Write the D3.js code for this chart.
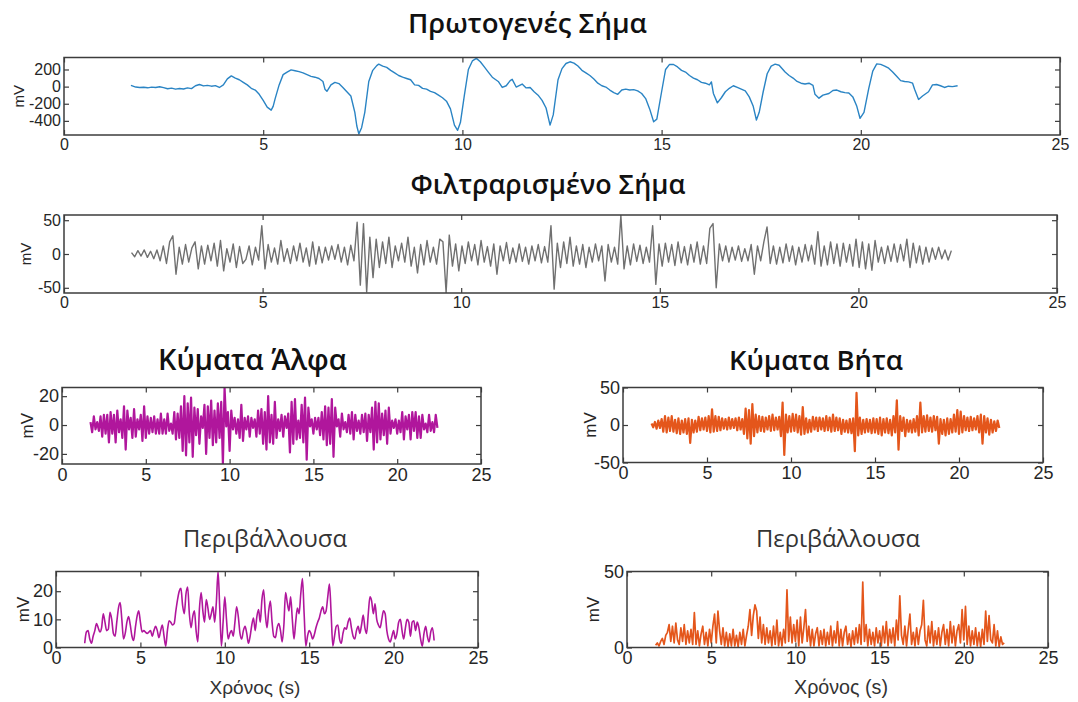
<!DOCTYPE html>
<html>
<head>
<meta charset="utf-8">
<script src="https://cdn.jsdelivr.net/npm/d3@7"></script>
<style>
  body { margin: 0; background: #fff; }
  svg { display: block; }
</style>
</head>
<body>
<svg id="chart" width="1078" height="702"></svg>
<script>
// ---- data ----
const xTicks = [0, 5, 10, 15, 20, 25];

// raw signal: time (s) / value (mV)
const rawT = [1.68,1.8,1.9,2.0,2.1,2.2,2.3,2.4,2.5,2.6,2.7,2.8,2.9,3.0,3.1,3.2,3.3,3.4,3.5,3.6,3.7,3.8,3.9,4.0,4.1,4.2,4.3,4.4,4.5,4.6,4.7,4.8,4.9,5.0,5.1,5.2,5.25,5.3,5.4,5.5,5.6,5.7,5.8,5.9,6.0,6.1,6.2,6.3,6.4,6.5,6.55,6.6,6.7,6.8,6.9,7.0,7.1,7.2,7.3,7.35,7.4,7.47,7.55,7.65,7.75,7.85,7.9,8.0,8.1,8.2,8.3,8.4,8.5,8.6,8.7,8.8,8.9,9.0,9.1,9.2,9.3,9.4,9.5,9.6,9.7,9.8,9.88,9.95,10.05,10.15,10.25,10.35,10.45,10.55,10.65,10.75,10.9,11.0,11.1,11.2,11.25,11.35,11.5,11.6,11.7,11.8,11.9,12.0,12.1,12.2,12.28,12.4,12.5,12.6,12.7,12.8,12.9,13.0,13.1,13.2,13.3,13.4,13.5,13.6,13.7,13.8,13.9,14.0,14.1,14.2,14.3,14.4,14.5,14.6,14.7,14.8,14.88,15.0,15.1,15.2,15.3,15.4,15.5,15.6,15.7,15.8,15.9,16.0,16.1,16.2,16.25,16.3,16.4,16.5,16.6,16.7,16.8,16.9,17.0,17.1,17.2,17.3,17.38,17.45,17.55,17.65,17.75,17.85,17.95,18.1,18.2,18.3,18.4,18.5,18.6,18.7,18.8,18.85,18.95,19.05,19.2,19.3,19.4,19.5,19.6,19.7,19.8,19.9,19.98,20.08,20.2,20.3,20.4,20.5,20.6,20.7,20.8,20.9,21.0,21.1,21.2,21.3,21.35,21.45,21.55,21.7,21.8,21.9,22.0,22.1,22.2,22.3,22.43];
const rawV = [15,-5,-10,-8,-14,-6,-10,-2,-12,-25,-18,-30,-22,-28,-15,-24,10,25,8,15,5,12,-10,20,90,125,100,80,50,20,-20,-40,-90,-160,-240,-275,-230,-140,20,140,170,195,185,175,160,140,120,110,95,60,-30,-55,20,50,35,-10,-60,-110,-300,-460,-552,-480,-300,60,190,245,262,240,225,190,160,130,110,95,80,20,15,-20,-30,-55,-70,-100,-130,-170,-260,-450,-510,-420,-100,200,300,330,290,230,170,110,60,-10,10,70,85,-5,30,-15,-10,-60,-100,-160,-250,-450,-330,80,210,270,290,275,240,190,160,130,90,40,10,-5,-40,-70,-90,-40,-30,-40,-35,-50,-80,-140,-260,-410,-380,-60,200,260,258,230,190,170,130,100,80,50,40,20,55,-80,-190,-130,-60,-20,10,-10,-30,-50,-120,-230,-390,-300,-60,150,240,262,250,170,130,100,60,40,30,40,15,-90,-135,-100,-80,-45,-40,-60,-70,-75,-120,-230,-370,-300,-20,180,265,260,240,215,170,120,70,60,55,40,-30,-150,-110,-60,20,25,10,-10,5,0,10];

const seriesStart = 1.7;

// filtered signal, one value every 0.08 s from 1.7 s
const filtStep = 0.08;
const filtV = [
  2,-4,5,-3,6,-5,4,-7,6,-10,12,-14,18,27,-30,10,-15,14,-12,9,18,-22,12,-15,13,
  -10,16,-18,20,-25,8,-12,15,-20,11,-14,-8,12,-16,10,-9,42,-22,14,-12,9,-15,20,-11,8,
  -14,12,-10,16,-12,9,-18,18,-15,11,-13,10,-9,12,-8,14,-12,10,-16,13,-10,47,-46,45,-56,
  25,-35,22,-20,18,-14,25,-20,12,-10,16,-12,25,-18,10,-28,14,-16,20,-12,10,-15,22,18,-57,
  28,-18,15,-25,12,-14,18,-10,14,-16,20,-12,11,-18,15,-30,12,-10,17,-14,9,-12,15,-11,10,
  -15,12,-10,14,-13,11,-12,42,-52,16,-20,18,-14,25,-18,12,-15,14,-20,10,-12,15,-10,12,-40,
  14,-12,10,-15,57,-22,12,-16,15,-11,13,-14,10,-12,42,-45,15,-18,16,-12,14,-17,18,-13,11,
  -16,14,-12,18,-15,12,-14,38,45,-50,15,-10,12,-12,10,-9,12,-11,8,-10,14,-30,12,-10,18,
  40,-14,12,-15,10,-13,15,-11,12,-16,10,-12,14,-10,13,-15,33,-18,12,-16,18,-14,15,-18,16,
  -12,14,-18,22,-20,18,-22,15,-24,20,-12,10,-14,12,-11,15,-12,14,-10,22,-20,16,-13,12,-15,
  10,-12,9,-8,10,-7,6,-9,5
];

// alpha / beta bands and envelopes, one value every 0.1 s from 1.7 s
const bandStep = 0.1;
const alphaV = [
  2,-5,6,-3,2,-4,6,-8,7,-6,
  7,-12,9,-6,7,-12,10,-5,4,-9,
  13,-17,10,-3,5,-9,11,-8,4,-3,
  7,-11,13,-9,6,-6,5,-5,6,-6,
  4,-6,8,-6,4,-6,8,-4,1,-6,
  9,-10,8,-9,13,-18,20,-21,15,-12,
  19,-22,12,-7,11,-13,6,-2,14,-20,
  13,-9,17,-14,10,-12,15,-9,16,-27,
  26,-1,9,-18,10,-3,5,-6,4,-9,
  14,-11,5,-3,6,-8,5,-2,4,-8,
  10,-6,11,-13,9,-17,20,-12,7,-13,
  16,-9,4,-4,7,-8,6,-2,8,-19,
  16,-13,18,-10,3,-9,14,-12,19,-24,
  12,-1,4,-6,5,-3,5,-7,9,-10,
  13,-14,12,-13,18,-22,12,-1,4,-8,
  8,-3,2,-5,7,-6,9,-10,7,-4,
  3,-6,7,-5,8,-11,7,-5,12,-17,
  16,-12,15,-10,8,-7,10,-13,12,-6,
  3,-2,4,-6,3,-5,9,-10,6,-3,
  7,-10,9,-4,9,-9,6,-9,7,-3,
  1,-5,7,-4,2,-5,7,-2
];
const betaV = [
  2,-3,4,-5,6,-4,8,-9,12,-10,
  10,-8,12,-9,7,-11,9,-12,6,-10,
  8,-12,9,-24,7,-10,6,-9,11,-7,
  9,-6,10,-8,12,-10,21,-9,12,-8,
  11,-7,9,-5,8,-6,10,-5,8,-4,
  9,-7,10,-6,8,-12,22,-18,20,-25,
  28,-15,14,-10,12,-8,11,-9,10,-6,
  12,-8,14,-7,10,-6,11,-15,30,-40,
  14,-10,12,-9,15,-8,14,-10,12,-13,
  24,-12,9,-10,7,-9,11,-6,10,-8,
  10,-6,9,-8,12,-7,10,-9,14,-8,
  10,-7,9,-12,7,-9,6,-10,8,-11,
  9,-35,43,-14,10,-12,7,-10,8,-9,
  7,-11,9,-10,8,-12,10,-14,8,-10,
  9,-11,7,-14,12,-10,33,-33,12,-8,
  10,-15,7,-9,6,-10,8,-9,12,-14,
  30,-10,12,-9,13,-8,10,-9,12,-7,
  11,-25,8,-12,7,-14,9,-12,8,-10,
  14,-9,20,-12,18,-10,12,-7,10,-8,
  11,-7,9,-6,12,-10,14,-25,12,-10,
  9,-13,7,-10,5,-8,6,-4
];
const envAlphaV = [
  1.5,5.5,6,3,1.5,4,6,8.5,7,5.5,
  7,12,9,6,6.5,12.5,10,5,4,9,
  14,16,10,3,5,9,11,8,4,2.5,
  7,11,13,9,5.5,6,5.5,5,5.5,6,
  4,6,7.5,6,3.5,6,8,4,0.5,6,
  9.5,9,8,8.5,13,17,20,21,15,12,
  19,21.5,12,7,11,13,6,2,14,19.5,
  13,9,17,14,10,12,14.5,9,16,27,
  14,0.5,9,18,10,3,5,6,4,9,
  14.5,11,5,3,6,7.5,5,1.5,4,8,
  10.5,6,11,13.5,9,17,20.5,12,7,13,
  16.5,9,4,3.5,7,8.5,6,2,8,19.5,
  16,13,18,10,3,9,14,12,19,24.5,
  12,0.5,4,6,5,3,4.5,7,9,10.5,
  13,14.5,12,13,18,22.5,12,0.5,4,7.5,
  8,3,1.5,5,7,6.5,9,10.5,7,4,
  3,6,7.5,5,8,11.5,7,5,12,18,
  16.5,12,15.5,10,8,7,10,13,12,6,
  3,2,4,6,3,5,9,10,6,3,
  7,10,9,4,9,9.5,6,9,7,3,
  0.5,5,7.5,4,2,5.5,7,2.5
];
const envBetaV = [
  1.5,3,1,4,6,2,8,10,15,4,
  14,3,16,5,2,13,4,15,2,11,
  3,12,2,23,2,11,1,9,14,2,
  10,1,12,3,14,22,3,24,11,2,
  13,1,10,0.5,9,1,12,1,8,0.5,
  10,2,12,1,8,14,25,8,21,28,
  24,6,20,3,15,2,13,3,11,1,
  14,2,18,1,10,1,12,3,38,4,
  20,3,15,4,18,1,20,3,13,25,
  4,14,1,12,1,9,13,1,11,2,
  12,1,10,2,14,1,11,3,17,1,
  12,1,10,14,2,9,0.5,11,2,13,
  3,15,2,43,4,15,1,12,2,10,
  1,13,3,11,1,14,3,17,1,12,
  3,13,1,18,5,34,8,2,14,1,
  12,22,2,10,1,13,2,11,15,31,
  5,1,14,3,17,1,11,2,13,1,
  10,15,2,12,1,17,3,14,1,11,
  15,3,25,5,27,2,14,1,11,2,
  13,1,10,0.5,12,2,24,4,21,5,
  3,15,1,11,0.5,7,2,3
];

// ---- drawing ----
const svg = d3.select("#chart");
const tickFont = "'Liberation Sans', Arial, sans-serif";
const boxColor = "#3c3c3c";

const uniform = (values, step) => values.map((v, i) => ({ t: seriesStart + i * step, v }));
const rawData = rawT.map((t, i) => ({ t, v: rawV[i] }));

const panels = [
  { id: "raw", left: 64, right: 1060, top: 57.5, bottom: 135, yDomain: [-565, 340], yTicks: [-400, -200, 0, 200],
    data: rawData, color: "#2a84c4", width: 1.4, font: 16, mvX: 19, mvFont: 15 },
  { id: "filt", left: 64, right: 1057, top: 215, bottom: 293, yDomain: [-57.7, 57.7], yTicks: [-50, 0, 50],
    data: uniform(filtV, filtStep), color: "#707070", width: 1.4, font: 16, mvX: 26, mvFont: 15 },
  { id: "alpha", left: 62, right: 481, top: 387.5, bottom: 464, yDomain: [-27, 26], yTicks: [-20, 0, 20],
    data: uniform(alphaV, bandStep), color: "#b0169c", width: 2.2, font: 18, mvX: 27, mvFont: 17 },
  { id: "beta", left: 623, right: 1043, top: 387.5, bottom: 462.5, yDomain: [-50, 50], yTicks: [-50, 0, 50],
    data: uniform(betaV, bandStep), color: "#e4561b", width: 2.2, font: 18, mvX: 590, mvFont: 17 },
  { id: "envA", left: 56, right: 478, top: 571.5, bottom: 647.5, yDomain: [0, 27], yTicks: [0, 10, 20],
    data: uniform(envAlphaV, bandStep), color: "#b0169c", width: 1.6, font: 18, mvX: 23, mvFont: 17, curve: d3.curveMonotoneX },
  { id: "envB", left: 627, right: 1048, top: 571.5, bottom: 647.5, yDomain: [0, 50], yTicks: [0, 50],
    data: uniform(envBetaV, bandStep), color: "#e4561b", width: 1.7, font: 18, mvX: 593, mvFont: 17 }
];

function styleAxis(g, p) {
  g.select(".domain").remove();
  g.selectAll(".tick line").attr("stroke", boxColor).attr("stroke-width", 1.2);
  g.selectAll(".tick text")
    .attr("fill", "#262626")
    .style("font-family", tickFont)
    .style("font-size", p.font + "px");
}

function drawPanel(p) {
  const x = d3.scaleLinear().domain([0, 25]).range([p.left, p.right]);
  const y = d3.scaleLinear().domain(p.yDomain).range([p.bottom, p.top]);
  const g = svg.append("g").attr("class", "panel-" + p.id);

  g.append("clipPath").attr("id", "clip-" + p.id)
    .append("rect")
    .attr("x", p.left).attr("y", p.top)
    .attr("width", p.right - p.left).attr("height", p.bottom - p.top);

  const line = d3.line().x(d => x(d.t)).y(d => y(d.v)).curve(p.curve || d3.curveLinear);
  g.append("path")
    .datum(p.data)
    .attr("clip-path", `url(#clip-${p.id})`)
    .attr("fill", "none")
    .attr("stroke", p.color)
    .attr("stroke-width", p.width)
    .attr("stroke-linejoin", "round")
    .attr("d", line);

  const fmt = d => String(d);
  g.append("g").attr("transform", `translate(0,${p.bottom})`)
    .call(d3.axisBottom(x).tickValues(xTicks).tickFormat(fmt).tickSizeInner(-5).tickSizeOuter(0).tickPadding(4))
    .call(a => styleAxis(a, p));
  g.append("g").attr("transform", `translate(0,${p.top})`)
    .call(d3.axisTop(x).tickValues(xTicks).tickFormat("").tickSizeInner(-5).tickSizeOuter(0))
    .call(a => styleAxis(a, p));
  g.append("g").attr("transform", `translate(${p.left},0)`)
    .call(d3.axisLeft(y).tickValues(p.yTicks).tickFormat(fmt).tickSizeInner(-5).tickSizeOuter(0).tickPadding(3))
    .call(a => styleAxis(a, p));
  g.append("g").attr("transform", `translate(${p.right},0)`)
    .call(d3.axisRight(y).tickValues(p.yTicks).tickFormat("").tickSizeInner(-5).tickSizeOuter(0))
    .call(a => styleAxis(a, p));

  g.append("rect")
    .attr("x", p.left).attr("y", p.top)
    .attr("width", p.right - p.left).attr("height", p.bottom - p.top)
    .attr("fill", "none")
    .attr("stroke", boxColor)
    .attr("stroke-width", 1.5);

  g.append("text")
    .attr("transform", `translate(${p.mvX},${(p.top + p.bottom) / 2}) rotate(-90)`)
    .attr("text-anchor", "middle")
    .attr("dy", "0.35em")
    .attr("fill", "#262626")
    .style("font-family", tickFont)
    .style("font-size", p.mvFont + "px")
    .text("mV");
}

panels.forEach(drawPanel);

// titles and labels, font size fitted to the width seen in the reference
function label(text, cx, baseline, width, opts) {
  const t = svg.append("text")
    .attr("x", cx).attr("y", baseline)
    .attr("text-anchor", "middle")
    .attr("fill", opts.color)
    .style("font-family", opts.family)
    .style("font-weight", opts.weight || "normal")
    .style("font-size", "20px")
    .text(text);
  const w = t.node().getComputedTextLength();
  if (w > 0) t.style("font-size", (20 * width / w).toFixed(2) + "px");
}

const titleFont = { family: "'Open Sans', 'Noto Sans', sans-serif", weight: 600, color: "#111" };
const subFont = { family: "'Open Sans', 'Noto Sans', sans-serif", color: "#333" };
const axisFont = { family: tickFont, color: "#333" };

label("Πρωτογενές Σήμα", 527.5, 33, 239, titleFont);
label("Φιλτραρισμένο Σήμα", 548, 194, 275, titleFont);
label("Κύματα Άλφα", 252.5, 370, 189, titleFont);
label("Κύματα Βήτα", 816, 370, 174, titleFont);
label("Περιβάλλουσα", 265, 547, 164, subFont);
label("Περιβάλλουσα", 838, 547, 164, subFont);
label("Χρόνος (s)", 255, 694, 91, axisFont);
label("Χρόνος (s)", 841, 694, 94, axisFont);
</script>
</body>
</html>
